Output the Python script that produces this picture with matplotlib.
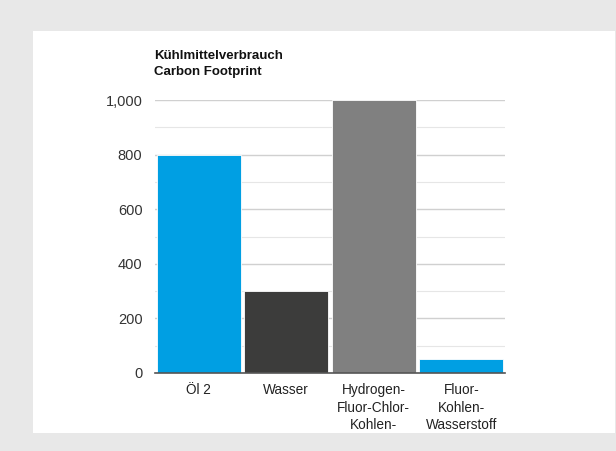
import matplotlib.pyplot as plt
from matplotlib.patches import Rectangle
from matplotlib.ticker import MultipleLocator, FuncFormatter

categories = ['Öl 2', 'Wasser', 'Hydrogen-\nFluor-Chlor-\nKohlen-', 'Fluor-\nKohlen-\nWasserstoff']
values = [800, 300, 1000, 50]
colors = ['#009fe3', '#3c3c3b', '#808080', '#009fe3']

plt.rcParams['font.family'] = ['Liberation Sans', 'DejaVu Sans']

fig = plt.figure(figsize=(6.16, 4.51), dpi=100)
fig.patch.set_facecolor('#e8e8e8')
# white card behind the chart
fig.patches.append(Rectangle((33 / 616, 18 / 451), 582 / 616, 402 / 451,
                             transform=fig.transFigure, facecolor='white',
                             edgecolor='none', zorder=-10))

ax = fig.add_axes([155 / 616, 78 / 451, 350 / 616, 273 / 451])
ax.set_zorder(1)
ax.set_facecolor('white')
ax.bar(range(len(values)), values, width=0.96, color=colors,
       edgecolor='white', linewidth=0.6, zorder=3)

ax.set_xlim(-0.5, 3.5)
ax.set_ylim(0, 1000)
ax.yaxis.set_major_locator(MultipleLocator(200))
ax.yaxis.set_minor_locator(MultipleLocator(100))
ax.yaxis.set_major_formatter(FuncFormatter(lambda v, p: f'{int(v):,}'))
ax.grid(axis='y', which='major', color='#d0d0d0', linewidth=1.0, zorder=0)
ax.grid(axis='y', which='minor', color='#e6e6e6', linewidth=0.8, zorder=0)

for s in ['top', 'right', 'left']:
    ax.spines[s].set_visible(False)
ax.spines['bottom'].set_color('#555555')
ax.spines['bottom'].set_linewidth(1.2)
ax.spines['bottom'].set_zorder(4)

ax.set_xticks(range(len(categories)))
ax.set_xticklabels(categories, fontsize=9.8, color='#222222', linespacing=1.35)
ax.tick_params(axis='x', length=0, pad=7)
ax.tick_params(axis='y', which='both', length=0, pad=9, labelsize=10.5, labelcolor='#333333')

fig.text(154 / 616, 1 - 64 / 451, 'Kühlmittelverbrauch\nCarbon Footprint',
         fontsize=9.5, fontweight='bold', va='center', ha='left',
         linespacing=1.5, color='#111111')

fig.savefig('out.png', dpi=100, facecolor=fig.get_facecolor())
